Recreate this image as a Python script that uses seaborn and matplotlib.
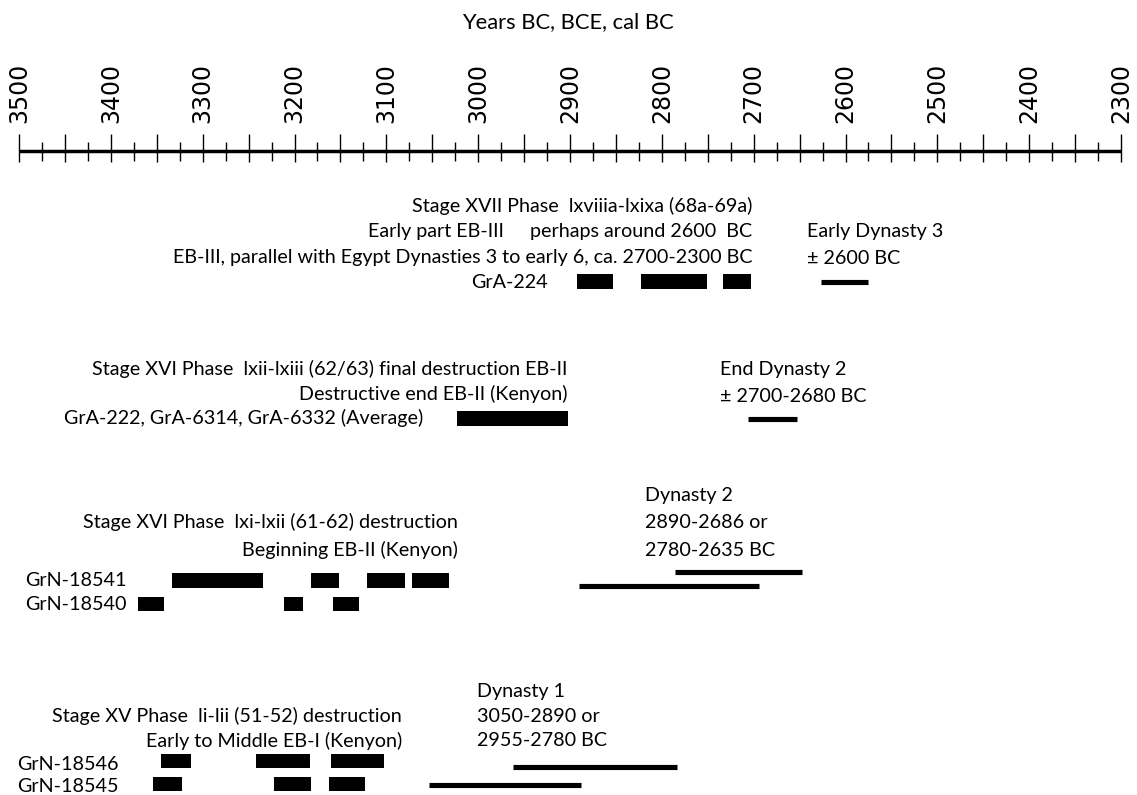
import matplotlib
matplotlib.use("Agg")
import matplotlib.pyplot as plt
import seaborn as sns
import pandas as pd
import numpy as np

# ---------------- data (years BC) ----------------
axis_labels = [3500, 3400, 3300, 3200, 3100, 3000, 2900, 2800, 2700, 2600, 2500, 2400, 2300]
axis_title = "Years BC, BCE, cal BC"

# radiocarbon ranges (start, end) in years BC
gra224_start = [2892, 2823, 2733]
gra224_end = [2853, 2751, 2703]

gra222_start = [3023]
gra222_end = [2902]

grn18541_start = [3333, 3182, 3121, 3072]
grn18541_end = [3234, 3152, 3080, 3032]

grn18540_start = [3370, 3211, 3158]
grn18540_end = [3342, 3191, 3130]

grn18546_start = [3345, 3242, 3160]
grn18546_end = [3313, 3183, 3102]

grn18545_start = [3354, 3222, 3162]
grn18545_end = [3322, 3182, 3123]

# Egyptian dynasty ranges (start, end)
early_dyn3 = [2627, 2575]
end_dyn2 = [2706, 2653]
dyn2_a = [2786, 2647]
dyn2_b = [2890, 2694]
dyn1_a = [2962, 2783]
dyn1_b = [3054, 2888]

# ---------------- figure ----------------
sns.set_theme(style="white")
plt.rcParams['font.family'] = ['Lato', 'DejaVu Sans']

W, H = 1137, 795
fig = plt.figure(figsize=(W / 100, H / 100), dpi=100)
ax = fig.add_axes([0, 0, 1, 1])
ax.axis('off')
px_per_year = (1121 - 19) / 1200.0
XLIM = (3500 + 19 / px_per_year, 2300 - (W - 1121) / px_per_year)
ax.set_xlim(*XLIM)
ax.set_ylim(H, 0)

renderer = fig.canvas.get_renderer()


def fit_size(text, target_px, family, base=14.0):
    t = fig.text(0, 0, text, fontsize=base, family=family)
    w = t.get_window_extent(renderer).width
    t.remove()
    return base * target_px / w


BODY = ['Lato', 'DejaVu Sans']
body_fs = fit_size("EB-III, parallel with Egypt Dynasties 3 to early 6, ca. 2700-2300 BC", 583, BODY)
title_fs = fit_size(axis_title, 212, BODY)
tick_fs = fit_size("3500", 60, ['DejaVu Sans'])

# ---------------- timeline axis ----------------
AXIS_Y = 151
ax.hlines(AXIS_Y, axis_labels[0], axis_labels[-1], color='black', lw=2.5)
tick_years = np.arange(axis_labels[0], axis_labels[-1] - 1, -25)
for yr in tick_years:
    if yr % 50 == 0:
        ax.vlines(yr, 134, 162, color='black', lw=1.0)
    else:
        ax.vlines(yr, 142, 161, color='black', lw=1.0)
for yr in axis_labels:
    ax.text(yr, 123, str(yr), rotation=90, ha='center', va='bottom',
            fontsize=tick_fs, family=['DejaVu Sans'], color='black')
ax.text(3500 - (568 - 19) / px_per_year, 22, axis_title, ha='center', va='center',
        fontsize=title_fs, family=BODY, color='black')

# ---------------- bars ----------------
BAR_H = 15


def bars(starts, ends, yc, h=BAR_H):
    s = np.array(starts, dtype=float)
    e = np.array(ends, dtype=float)
    ax.barh([yc] * len(s), width=s - e, left=e, height=h, color='black',
            edgecolor='none', linewidth=0)


bars(gra224_start, gra224_end, 281.5)
bars(gra222_start, gra222_end, 418.5)
bars(grn18541_start, grn18541_end, 580.5)
bars(grn18540_start, grn18540_end, 604, 14)
bars(grn18546_start, grn18546_end, 761, 14)
bars(grn18545_start, grn18545_end, 784, 14)

# ---------------- dynasty lines ----------------
segs = [(early_dyn3, 282), (end_dyn2, 419), (dyn2_a, 571.5), (dyn2_b, 586),
        (dyn1_a, 767), (dyn1_b, 784.5)]
rows = []
for i, (rng, yc) in enumerate(segs):
    for v in rng:
        rows.append({'year': v, 'y': yc, 'seg': i})
df = pd.DataFrame(rows)
sns.lineplot(data=df, x='year', y='y', units='seg', estimator=None, sort=False,
             color='black', linewidth=3.7, legend=False, ax=ax, solid_capstyle='butt')
ax.set_xlim(*XLIM)
ax.set_ylim(H, 0)
ax.axis('off')


# ---------------- text ----------------
def xpx(p):
    return 3500 - (p - 19) / px_per_year


def txt(xp, yp, s, ha):
    ax.text(xpx(xp), yp, s, ha=ha, va='center', fontsize=body_fs, family=BODY, color='black')


# group 1
txt(752, 206, "Stage XVII Phase  lxviiia-lxixa (68a-69a)", 'right')
txt(504, 232, "Early part EB-III", 'right')
txt(752, 232, "perhaps around 2600  BC", 'right')
txt(752, 258, "EB-III, parallel with Egypt Dynasties 3 to early 6, ca. 2700-2300 BC", 'right')
txt(548, 282, "GrA-224", 'right')
txt(807, 232, "Early Dynasty 3", 'left')
txt(807, 258, "± 2600 BC", 'left')

# group 2
txt(567, 369, "Stage XVI Phase  lxii-lxiii (62/63) final destruction EB-II", 'right')
txt(567, 394, "Destructive end EB-II (Kenyon)", 'right')
txt(423, 418, "GrA-222, GrA-6314, GrA-6332 (Average)", 'right')
txt(720, 370, "End Dynasty 2", 'left')
txt(720, 396, "± 2700-2680 BC", 'left')

# group 3
txt(645, 496, "Dynasty 2", 'left')
txt(458, 522, "Stage XVI Phase  lxi-lxii (61-62) destruction", 'right')
txt(645, 522, "2890-2686 or", 'left')
txt(458, 550, "Beginning EB-II (Kenyon)", 'right')
txt(645, 550, "2780-2635 BC", 'left')
txt(25, 580, "GrN-18541", 'left')
txt(25, 604, "GrN-18540", 'left')

# group 4
txt(477, 691, "Dynasty 1", 'left')
txt(402, 716, "Stage XV Phase  li-lii (51-52) destruction", 'right')
txt(477, 716, "3050-2890 or", 'left')
txt(402, 741, "Early to Middle EB-I (Kenyon)", 'right')
txt(477, 741, "2955-2780 BC", 'left')
txt(17, 764, "GrN-18546", 'left')
txt(17, 787, "GrN-18545", 'left')

fig.savefig('out.png', dpi=100)
